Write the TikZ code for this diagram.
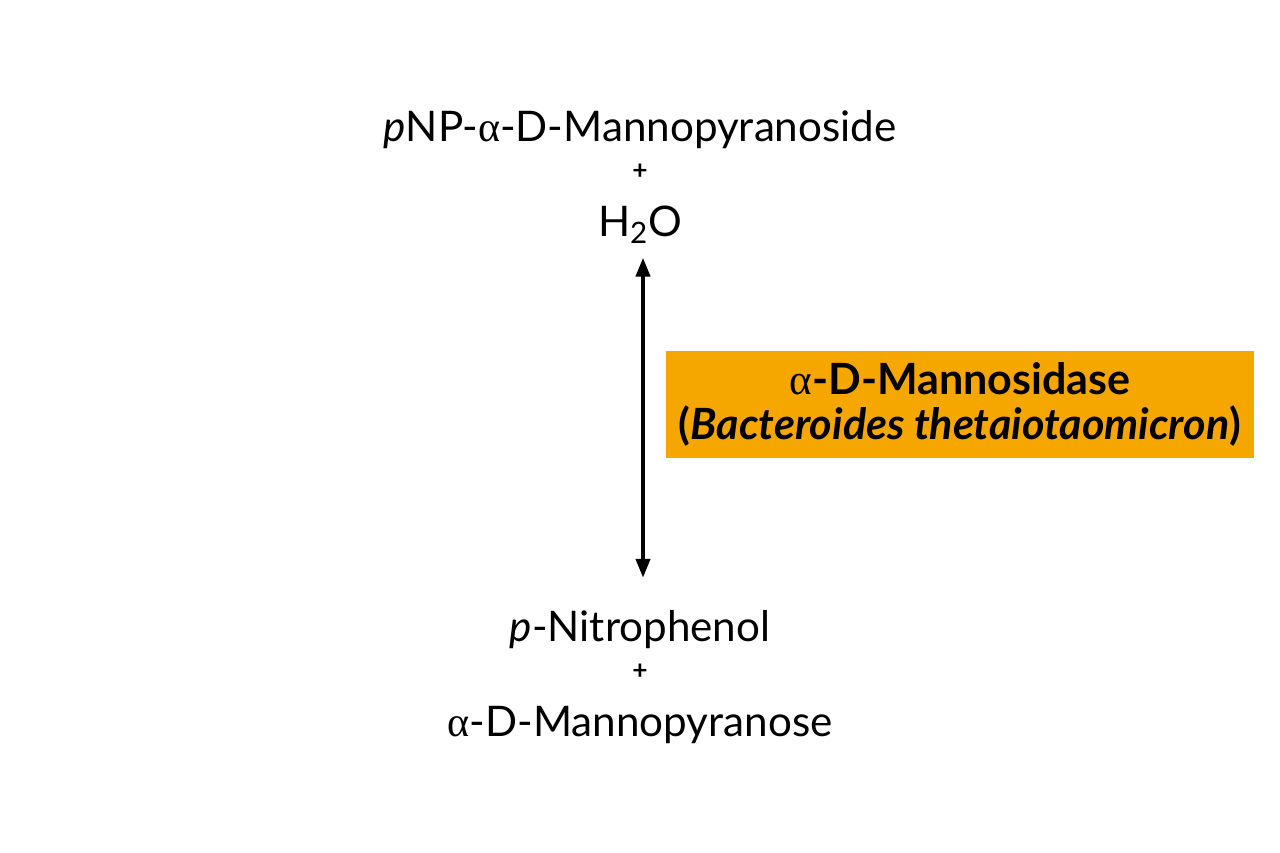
\documentclass[tikz,border=0pt]{standalone}
\usepackage{fontspec}
\setmainfont{Lato}
\newfontfamily\greekfont{Liberation Serif}
\usetikzlibrary{positioning,calc,arrows.meta}
\definecolor{enzorange}{HTML}{F5A700}
\newcommand{\alphaup}{{\greekfont\mdseries\upshape α}}

\begin{document}
\begin{tikzpicture}[
chem/.style={
anchor=base,
font=\fontsize{24}{28}\selectfont,
inner sep=1pt
},
plus/.style={
anchor=center,
font=\fontsize{15}{16}\selectfont\bfseries,
inner sep=1pt
},
enzyme/.style={
fill=enzorange,
align=center,
minimum width=11.76cm,
minimum height=2.14cm,
inner sep=0pt,
font=\fontsize{24.5}{26}\selectfont\bfseries
},
arrow/.style={
{Triangle[length=0.38cm,width=0.28cm]}-{Triangle[length=0.38cm,width=0.28cm]},
line width=0.08cm
}
]

\useasboundingbox (0,0) rectangle (25.6,17.06);

% Substrates

\node (substrate) [chem] at (12.8,14.22)
{\textit{p}NP-\alphaup-D-Mannopyranoside};

\node (plustop) [plus] at (12.8,13.62) {+};

\node (water) [chem] at (12.8,12.32)
{H\textsubscript{2}O};


% Products

\node (nitro) [chem] at (12.8,4.22)
{\textit{p}-Nitrophenol};

\node (plusbot) [plus] at (12.8,3.62) {+};

\node (mannose) [chem] at (12.8,2.32)
{\alphaup-D-Mannopyranose};


% Enzyme

\node (enzyme) [enzyme] at (19.2,8.97)
{\alphaup-D-Mannosidase\\(\textit{Bacteroides thetaiotaomicron})};


\draw[arrow, shorten <=0.24cm, shorten >=0.62cm]
([xshift=0.06cm]water.south) -- ([xshift=0.06cm]water.south |- nitro.north);


\end{tikzpicture}
\end{document}
